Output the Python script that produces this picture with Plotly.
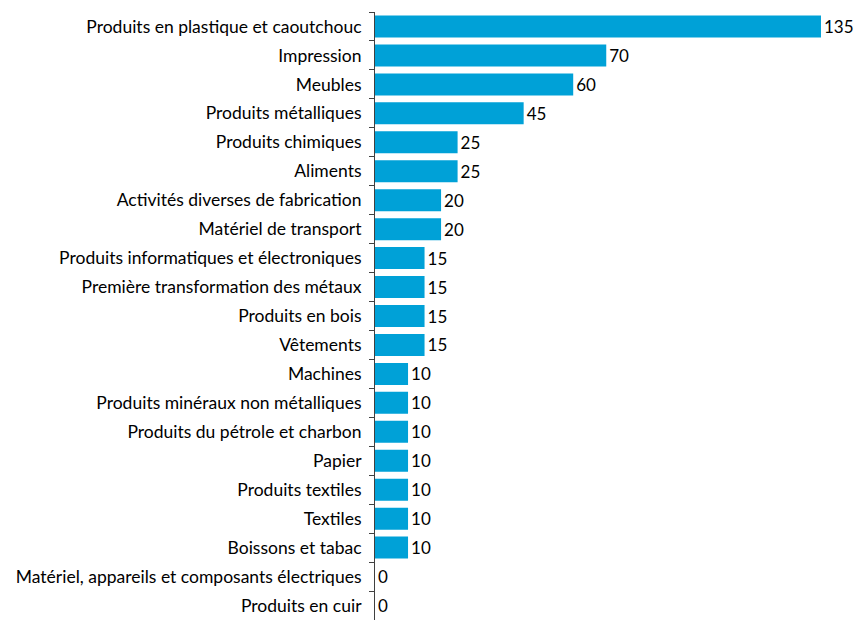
import plotly.graph_objects as go

categories = [
    "Produits en plastique et caoutchouc",
    "Impression",
    "Meubles",
    "Produits métalliques",
    "Produits chimiques",
    "Aliments",
    "Activités diverses de fabrication",
    "Matériel de transport",
    "Produits informatiques et électroniques",
    "Première transformation des métaux",
    "Produits en bois",
    "Vêtements",
    "Machines",
    "Produits minéraux non métalliques",
    "Produits du pétrole et charbon",
    "Papier",
    "Produits textiles",
    "Textiles",
    "Boissons et tabac",
    "Matériel, appareils et composants électriques",
    "Produits en cuir",
]
values = [135, 70, 60, 45, 25, 25, 20, 20, 15, 15, 15, 15, 10, 10, 10, 10, 10, 10, 10, 0, 0]

font_family = "Lato, Open Sans, sans-serif"

fig = go.Figure(go.Bar(
    x=values,
    y=categories,
    orientation="h",
    marker=dict(color="#00A1D7", line=dict(width=0)),
    text=[str(v) for v in values],
    textposition="outside",
    textfont=dict(size=17, color="#000000", family=font_family),
    cliponaxis=False,
))

fig.update_layout(
    width=856, height=620,
    margin=dict(l=375, r=0, t=12, b=0, autoexpand=False),
    plot_bgcolor="white", paper_bgcolor="white",
    bargap=0.24,
    showlegend=False,
    font=dict(family=font_family, size=17, color="#000000"),
    xaxis=dict(range=[0, 145.6], visible=False, showgrid=False, zeroline=False),
    yaxis=dict(
        autorange="reversed",
        showline=True, linecolor="#404040", linewidth=1,
        ticks="outside", tickson="boundaries", ticklen=5, tickcolor="#404040",
        ticklabelstandoff=9,
        showgrid=False,
        automargin=False,
        tickfont=dict(size=17.5, family=font_family, color="#000000"),
    ),
)

fig.write_html(
    "out.html",
    config={"displayModeBar": False},
    post_script="document.body.style.margin='0';document.body.style.overflow='hidden';",
)
